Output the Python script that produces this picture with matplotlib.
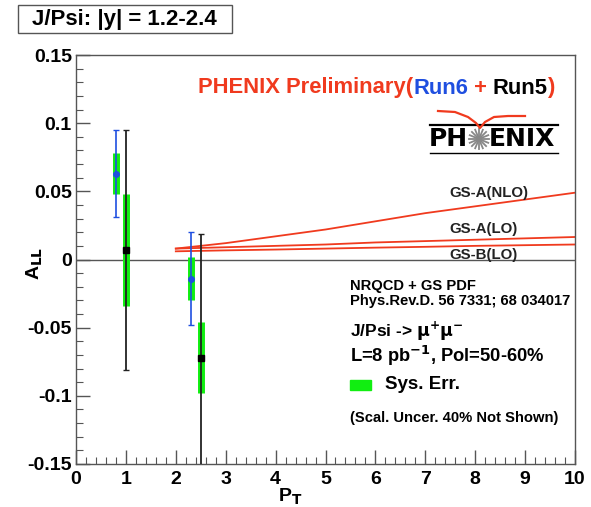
import matplotlib
matplotlib.use("Agg")
import matplotlib.pyplot as plt
from matplotlib.patches import Rectangle
from matplotlib.ticker import MultipleLocator, FixedLocator
import numpy as np

plt.rcParams['font.family'] = ['Liberation Sans', 'DejaVu Sans']
plt.rcParams['font.weight'] = 'bold'
plt.rcParams['mathtext.default'] = 'bf'

# Run6 measurements (blue)
pt_run6 = [0.8, 2.3]
all_run6 = [0.063, -0.014]
stat_run6 = [0.032, 0.034]
sys_run6 = [0.015, 0.016]

# Run5 measurements (black)
pt_run5 = [1.0, 2.5]
all_run5 = [0.007, -0.072]
stat_run5 = [0.088, 0.091]
sys_run5 = [0.041, 0.026]

# NRQCD + GS PDF predictions
pt_theory = [2, 3, 4, 5, 6, 7, 8, 9, 10]
gsa_nlo = [0.008, 0.012, 0.017, 0.022, 0.028, 0.034, 0.039, 0.044, 0.049]
gsa_lo = [0.008, 0.009, 0.010, 0.011, 0.0125, 0.0135, 0.0145, 0.0155, 0.0165]
gsb_lo = [0.006, 0.0067, 0.0073, 0.008, 0.0087, 0.0093, 0.0100, 0.0105, 0.011]
theory_names = ["GS-A(NLO)", "GS-A(LO)", "GS-B(LO)"]

x_ticks = [0, 1, 2, 3, 4, 5, 6, 7, 8, 9, 10]
y_ticks = [-0.15, -0.1, -0.05, 0, 0.05, 0.1, 0.15]
y_tick_labels = ["-0.15", "-0.1", "-0.05", "0", "0.05", "0.1", "0.15"]

RED = "#f03a1e"
BLUE = "#1f4fe0"
GREEN = "#11ee11"
DARK = "#222222"

W, H = 591, 507
fig = plt.figure(figsize=(W / 100, H / 100), dpi=100)
ax = fig.add_axes([76 / W, 1 - 464 / H, (575 - 76) / W, (464 - 55) / H])
ax.set_xlim(0, 10)
ax.set_ylim(-0.15, 0.15)


def px(x, y):
    """Pixel position (from top-left) to figure fraction."""
    return x / W, 1 - y / H


# zero line
ax.axhline(0, color="#555555", lw=1.0, zorder=1)

# theory curves
for ys in (gsa_nlo, gsa_lo, gsb_lo):
    ax.plot(pt_theory, ys, color=RED, lw=1.3, zorder=2)

# systematic bars
for x, y, s in zip(pt_run6, all_run6, sys_run6):
    ax.vlines(x, y - s, y + s, color=GREEN, lw=5, zorder=3)
for x, y, s in zip(pt_run5, all_run5, sys_run5):
    ax.vlines(x, y - s, y + s, color=GREEN, lw=5, zorder=3)

# statistical bars and points
ax.errorbar(pt_run6, all_run6, yerr=stat_run6, fmt='o', color=BLUE, ms=4,
            elinewidth=1.2, capsize=2, capthick=1.0, zorder=4)
ax.errorbar(pt_run5, all_run5, yerr=stat_run5, fmt='s', color=DARK, ms=5,
            elinewidth=1.3, capsize=2, capthick=1.0, zorder=4, mfc='black', mec='black')

# axes styling: ROOT-like inward ticks
for sp in ax.spines.values():
    sp.set_color("#555555")
    sp.set_linewidth(1.0)
ax.xaxis.set_major_locator(FixedLocator(x_ticks))
ax.xaxis.set_minor_locator(MultipleLocator(0.2))
ax.yaxis.set_major_locator(FixedLocator(y_ticks))
ax.yaxis.set_minor_locator(MultipleLocator(0.01))
ax.set_yticklabels(y_tick_labels)
ax.tick_params(axis='both', which='both', direction='in', top=False, right=False,
               color="#555555", labelsize=14)
ax.tick_params(axis='both', which='major', length=10, width=1.0)
ax.tick_params(axis='both', which='minor', length=5, width=0.8)
ax.tick_params(axis='x', pad=5)
ax.tick_params(axis='y', pad=3)
for lab in ax.get_xticklabels() + ax.get_yticklabels():
    lab.set_fontweight('bold')

ax.set_xlabel(r"P$_\mathbf{T}$", fontsize=14, fontweight='bold', labelpad=0)
ax.set_ylabel(r"A$_\mathbf{LL}$", fontsize=14, fontweight='bold', labelpad=8)
ax.xaxis.set_label_coords(0.43, -0.055)
ax.yaxis.set_label_coords(-0.062, 0.49)

# title box
(bx0, by0), (bx1, by1) = px(18, 33), px(232, 5)
fig.add_artist(Rectangle((bx0, by0), bx1 - bx0, by1 - by0, transform=fig.transFigure,
                         fc='white', ec='#555555', lw=1.0))
fig.text(*px(32, 19), "J/Psi: |y| = 1.2-2.4", fontsize=16, fontweight='bold',
         ha='left', va='center')

# headline with coloured run labels
parts = [("PHENIX Preliminary(", RED), ("Run6", BLUE), (" + ", RED), ("Run5", "black"), (")", RED)]
renderer = fig.canvas.get_renderer()
xpos = 198 / W
for txt, col in parts:
    t = fig.text(xpos, 1 - 88 / H, txt, color=col, fontsize=15.8, fontweight='bold',
                 ha='left', va='center')
    bb = t.get_window_extent(renderer=renderer)
    xpos += bb.width / fig.bbox.width

# PHENIX logo
ly = 139
fig.text(*px(429, ly), "PH", fontsize=18, fontweight='bold', color='black', ha='left',
         va='center', family='DejaVu Sans')
fig.text(*px(489, ly), "ENIX", fontsize=18, fontweight='bold', color='black', ha='left',
         va='center', family='DejaVu Sans')
cx, cy = 479, ly
for ang in np.linspace(0, np.pi, 8, endpoint=False):
    dx, dy = 10 * np.cos(ang), 10 * np.sin(ang)
    x0, y0 = px(cx - dx, cy - dy)
    x1, y1 = px(cx + dx, cy + dy)
    fig.add_artist(plt.Line2D([x0, x1], [y0, y1], color='#888888', lw=1.3,
                              transform=fig.transFigure))
for yy, lw in ((125, 1.6), (153, 1.0)):
    (a0, b0), (a1, b1) = px(430, yy), px(558, yy)
    fig.add_artist(plt.Line2D([a0, a1], [b0, b1], color='black', lw=lw,
                              transform=fig.transFigure))
wing = [(438, 111), (455, 112), (468, 117), (476, 123), (480, 128), (485, 122),
        (494, 117), (508, 116), (525, 116)]
wx = [px(*p)[0] for p in wing]
wy = [px(*p)[1] for p in wing]
fig.add_artist(plt.Line2D(wx, wy, color=RED, lw=1.6, transform=fig.transFigure))

# theory curve labels
for name, yv in zip(theory_names, [0.0485, 0.0225, 0.0035]):
    ax.text(7.48, yv, name, fontsize=10.8, fontweight='bold', ha='left', va='center',
            color='#222222')

# info block
ax.text(5.5, -0.0198, "NRQCD + GS PDF", fontsize=10.6, fontweight='bold', ha='left',
        va='center')
ax.text(5.5, -0.0305, "Phys.Rev.D. 56 7331; 68 034017", fontsize=10.6, fontweight='bold',
        ha='left', va='center')
ax.text(5.5, -0.0525, r"J/Psi -> $\mathrm{\mu^{+}\mu^{-}}$", fontsize=12.5, fontweight='bold',
        ha='left', va='center')
ax.text(5.5, -0.0705, r"L=8 pb$^{\mathbf{-1}}$, Pol=50-60%", fontsize=13.2, fontweight='bold',
        ha='left', va='center')
ax.add_patch(Rectangle((5.5, -0.0955), 0.42, 0.0072, color=GREEN, zorder=3))
ax.text(6.2, -0.0915, "Sys. Err.", fontsize=13.5, fontweight='bold', ha='left', va='center')
ax.text(5.5, -0.1163, "(Scal. Uncer. 40% Not Shown)", fontsize=10.6, fontweight='bold',
        ha='left', va='center')

fig.savefig("out.png", dpi=100, facecolor='white')
